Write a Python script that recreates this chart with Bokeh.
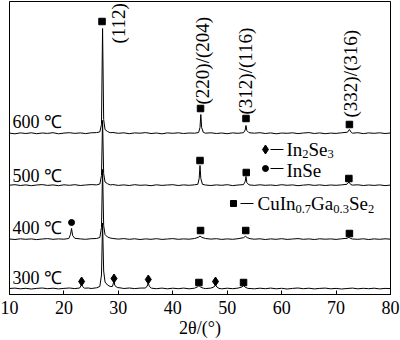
import math
from bokeh.plotting import figure
from bokeh.models import Range1d, FixedTicker, ColumnDataSource
from bokeh.core.properties import value
from bokeh.embed import file_html
from bokeh.resources import INLINE

# ---------------- data ----------------
x_ticks = [10, 20, 30, 40, 50, 60, 70, 80]
x_tick_labels = ["10", "20", "30", "40", "50", "60", "70", "80"]
x_title = "2θ/(°)"

temps = ["600 ℃", "500 ℃", "400 ℃", "300 ℃"]
offsets = [161, 109, 55, 5.5]          # vertical stacking offset of each pattern
label_y = [173, 119, 67, 17]

# (2theta, intensity above own baseline)
t600 = [(10,0.4),(11,-0.3),(12,0.6),(13,0.0),(14,0.7),(15,-0.2),(16,0.5),(17,0.1),(18,0.8),(19,-0.3),
        (20,0.4),(21,0.8),(22,0.1),(23,0.6),(24,-0.1),(25,0.7),(26,0.9),(26.6,1.6),(26.9,9),(27.1,105),
        (27.3,14),(27.55,4),(28.0,2.0),(28.5,0.8),(29,1.0),(30,0.2),(31,0.7),(32,-0.2),(33,0.6),(34,0.3),
        (35,0.9),(36,0.0),(37,0.5),(38,-0.3),(39,0.6),(40,0.2),(41,0.7),(42,0.0),(43,0.5),(44,0.3),
        (44.75,1.0),(45.0,6),(45.15,19),(45.3,6),(45.6,1.2),(46,0.3),(47,0.7),(48,0.0),(49,0.5),(50,-0.2),
        (51,0.6),(52,0.2),(53,0.8),(53.3,3.5),(53.45,8),(53.6,3),(54,0.8),(55,0.3),(56,0.8),(57,0.0),
        (58,0.6),(59,-0.3),(60,0.5),(61,0.2),(62,0.7),(63,-0.1),(64,0.5),(65,0.9),(66,0.0),(67,0.6),
        (68,-0.2),(69,0.4),(70,0.1),(71,0.7),(72.1,1.3),(72.45,4),(72.8,1.0),(73,0.3),(74,0.8),(75,-0.1),
        (76,0.6),(77,0.2),(78,0.7),(79,0.0),(80,0.5)]
t500 = [(10,0.3),(11,0.8),(12,0.0),(13,0.6),(14,-0.2),(15,0.5),(16,0.9),(17,0.1),(18,0.6),(19,-0.2),
        (20,0.7),(21,0.2),(22,0.8),(23,0.0),(24,0.5),(25,0.9),(26,0.6),(26.6,1.5),(26.9,10),(27.1,65),
        (27.3,12),(27.55,3.5),(28.0,1.8),(28.5,0.6),(29,0.9),(30,0.1),(31,0.6),(32,0.0),(33,0.8),(34,0.2),
        (35,0.5),(36,-0.2),(37,0.7),(38,0.1),(39,0.5),(40,0.8),(41,0.0),(42,0.6),(43,0.2),(44,0.7),
        (44.6,1.2),(44.85,7),(45.0,20),(45.15,7),(45.45,1.2),(46,0.5),(47,0.0),(48,0.6),(49,0.2),(50,0.8),
        (51,-0.1),(52,0.5),(53,0.9),(53.3,4),(53.45,9),(53.6,3),(54,0.6),(55,0.1),(56,0.7),(57,0.2),
        (58,0.5),(59,0.0),(60,0.8),(61,0.2),(62,0.6),(63,-0.2),(64,0.4),(65,0.8),(66,0.1),(67,0.6),
        (68,0.0),(69,0.5),(70,0.2),(71,0.6),(72.0,1.2),(72.35,3.5),(72.7,1.0),(73,0.4),(74,0.7),(75,0.0),
        (76,0.5),(77,0.1),(78,0.6),(79,-0.1),(80,0.4)]
t400 = [(10,0.5),(11,0.0),(12,0.7),(13,0.2),(14,0.6),(15,-0.1),(16,0.5),(17,0.9),(18,0.2),(19,0.6),
        (20,0.3),(20.9,1.0),(21.2,5),(21.4,11),(21.6,4),(22.0,1.2),(23,0.6),(24,0.2),(25,0.8),(26,1.0),
        (26.6,2),(26.9,12),(27.1,70),(27.3,14),(27.55,5),(28.0,2.5),(28.5,1.5),(29,1.0),(30,0.4),(31,0.9),
        (32,0.2),(33,0.7),(34,0.0),(35,0.6),(36,0.2),(37,0.8),(38,0.1),(39,0.5),(40,0.9),(41,0.2),
        (42,0.6),(43,0.3),(44,1.0),(44.7,2.2),(45.0,3.5),(45.3,2.2),(46,1.0),(47,0.4),(48,0.8),(49,0.1),
        (50,0.6),(51,0.2),(52,0.8),(53.0,1.8),(53.35,3.2),(53.7,1.8),(54.2,0.8),(55,0.3),(56,0.7),(57,0.0),
        (58,0.6),(59,0.2),(60,0.8),(61,0.1),(62,0.5),(63,0.9),(64,0.2),(65,0.6),(66,0.0),(67,0.7),
        (68,0.3),(69,0.6),(70,0.1),(71,0.7),(72,1.2),(72.35,2.2),(72.7,1.0),(73,0.5),(74,0.2),(75,0.7),
        (76,0.0),(77,0.6),(78,0.2),(79,0.7),(80,0.3)]
t300 = [(10,0.5),(11,0.9),(12,0.2),(13,0.7),(14,0.0),(15,0.6),(16,1.0),(17,0.3),(18,0.8),(19,0.1),
        (20,0.6),(21,1.0),(22,0.4),(22.9,1.0),(23.1,3),(23.25,5),(23.4,2.5),(23.8,0.8),(24.5,1.0),(25,0.5),
        (26,1.2),(26.6,2.5),(26.9,14),(27.1,66),(27.3,18),(27.55,7),(28.0,4),(28.5,2.5),(28.9,2.5),(29.05,5),
        (29.2,8),(29.35,3.5),(29.8,1.5),(30.5,1.0),(31,0.5),(32,1.0),(33,0.4),(34,0.9),(35,1.0),(35.3,3),
        (35.5,6),(35.7,2.5),(36.1,0.8),(37,0.3),(38,0.9),(39,0.2),(40,0.8),(41,0.3),(42,0.9),(43,0.2),
        (44,0.8),(44.5,2),(44.8,3.5),(45.1,2),(45.6,0.8),(46,0.4),(47,0.9),(47.55,2),(47.85,4),(48.1,2),
        (48.5,0.6),(49,0.2),(50,0.8),(51,0.3),(52,0.9),(52.7,2),(53.0,3.5),(53.3,1.8),(53.8,0.6),(55,0.2),
        (56,0.8),(57,0.3),(58,0.9),(59,0.2),(60,0.7),(61,0.0),(62,0.6),(63,1.0),(64,0.3),(65,0.8),
        (66,0.1),(67,0.6),(68,0.9),(69,0.2),(70,0.6),(71,0.0),(72,0.5),(73,0.9),(74,0.2),(75,0.7),
        (76,0.3),(77,0.8),(78,0.1),(79,0.6),(80,0.4)]
traces = [t600, t500, t400, t300]

# phase markers (2theta, y)
sq_x = [27.0, 45.1, 53.45, 72.45, 45.0, 53.5, 72.35, 45.1, 53.4, 72.45, 44.8, 53.0]
sq_y = [273, 186, 176, 170, 134, 122, 116, 64, 64, 61, 12, 12]
dia_x = [23.25, 29.2, 35.5, 47.85]
dia_y = [13, 16, 15, 13]
circ_x = [21.4]
circ_y = [72]

hkl = ["(112)", "(220)/(204)", "(312)/(116)", "(332)/(316)"]
hkl_x = [30.0, 45.4, 53.4, 72.65]
hkl_y = [251, 190, 180, 177]

FONT = value("Liberation Serif")
AXFONT = "'Liberation Serif'"

p = figure(width=400, height=340, output_backend="svg", toolbar_location=None,
           x_range=Range1d(10, 80), y_range=Range1d(0, 293),
           min_border_left=9, min_border_right=10, min_border_top=1, min_border_bottom=46)

for tr, off in zip(traces, offsets):
    xs = [a for a, b in tr]
    ys = [b + off for a, b in tr]
    p.line(xs, ys, line_color="black", line_width=1)

p.scatter(sq_x, sq_y, marker="square", size=6.5, fill_color="black", line_color="black")
p.scatter(dia_x, dia_y, marker="diamond", size=9, fill_color="black", line_color="black")
p.scatter(circ_x, circ_y, marker="circle", size=6, fill_color="black", line_color="black")

p.text([10.55] * 4, label_y, text=temps, text_font=FONT, text_font_size="18px",
       text_align="left", text_baseline="middle", text_color="black")

p.text(hkl_x, hkl_y, text=hkl, angle=math.pi / 2, text_font=FONT, text_font_size="19px",
       text_align="left", text_baseline="middle", text_color="black")

# legend (drawn by hand as in the original)
leg_marker_x = [57.03, 57.03, 51.15]
leg_marker_y = [145, 126, 91]
p.scatter([leg_marker_x[0]], [leg_marker_y[0]], marker="diamond", size=9, fill_color="black", line_color="black")
p.scatter([leg_marker_x[1]], [leg_marker_y[1]], marker="circle", size=6, fill_color="black", line_color="black")
p.scatter([leg_marker_x[2]], [leg_marker_y[2]], marker="square", size=6, fill_color="black", line_color="black")
p.segment(x0=[57.95, 57.95, 52.44], y0=leg_marker_y, x1=[60.34, 60.34, 54.83], y1=leg_marker_y,
          line_color="black", line_width=1)

leg_text_x = [60.87, 60.87, 55.56]
leg_text_y = [145.5, 124, 91]
# pieces: (legend row, text, pixel offset, is subscript)
pieces = [(0, "In", 0, False), (0, "2", 15.8, True), (0, "Se", 22.1, False), (0, "3", 41.1, True),
          (1, "InSe", 0, False),
          (2, "CuIn", 0, False), (2, "0.7", 38, True), (2, "Ga", 53.6, False), (2, "0.3", 75.8, True),
          (2, "Se", 91.4, False), (2, "2", 110.4, True)]
for sub in (False, True):
    sel = [pc for pc in pieces if pc[3] == sub]
    src = ColumnDataSource(dict(x=[leg_text_x[pc[0]] for pc in sel],
                                y=[leg_text_y[pc[0]] for pc in sel],
                                t=[pc[1] for pc in sel],
                                dx=[pc[2] for pc in sel]))
    p.text("x", "y", text="t", x_offset="dx", y_offset=5 if sub else 0, source=src,
           text_font=FONT, text_font_size="12.5px" if sub else "19px",
           text_align="left", text_baseline="middle", text_color="black")

p.xaxis.ticker = FixedTicker(ticks=x_ticks)
p.xaxis.major_label_overrides = dict(zip(x_ticks, x_tick_labels))
p.xaxis.axis_label = x_title
p.xaxis.axis_label_text_font = AXFONT
p.xaxis.axis_label_text_font_style = "normal"
p.xaxis.axis_label_text_font_size = "18px"
p.xaxis.axis_label_text_color = "black"
p.xaxis.axis_label_standoff = 1
p.xaxis.major_label_text_font = AXFONT
p.xaxis.major_label_text_font_size = "18px"
p.xaxis.major_label_text_color = "black"
p.xaxis.major_label_standoff = 6
p.xaxis.major_tick_in = 4
p.xaxis.major_tick_out = 0
p.xaxis.minor_tick_line_color = None
p.xaxis.axis_line_color = "black"
p.xaxis.major_tick_line_color = "black"
p.yaxis.visible = False
p.xgrid.visible = False
p.ygrid.visible = False
p.outline_line_color = "black"
p.outline_line_alpha = 1
p.outline_line_width = 1
p.background_fill_color = "white"
p.border_fill_color = "white"

open("out.html", "w").write(file_html(p, INLINE))
